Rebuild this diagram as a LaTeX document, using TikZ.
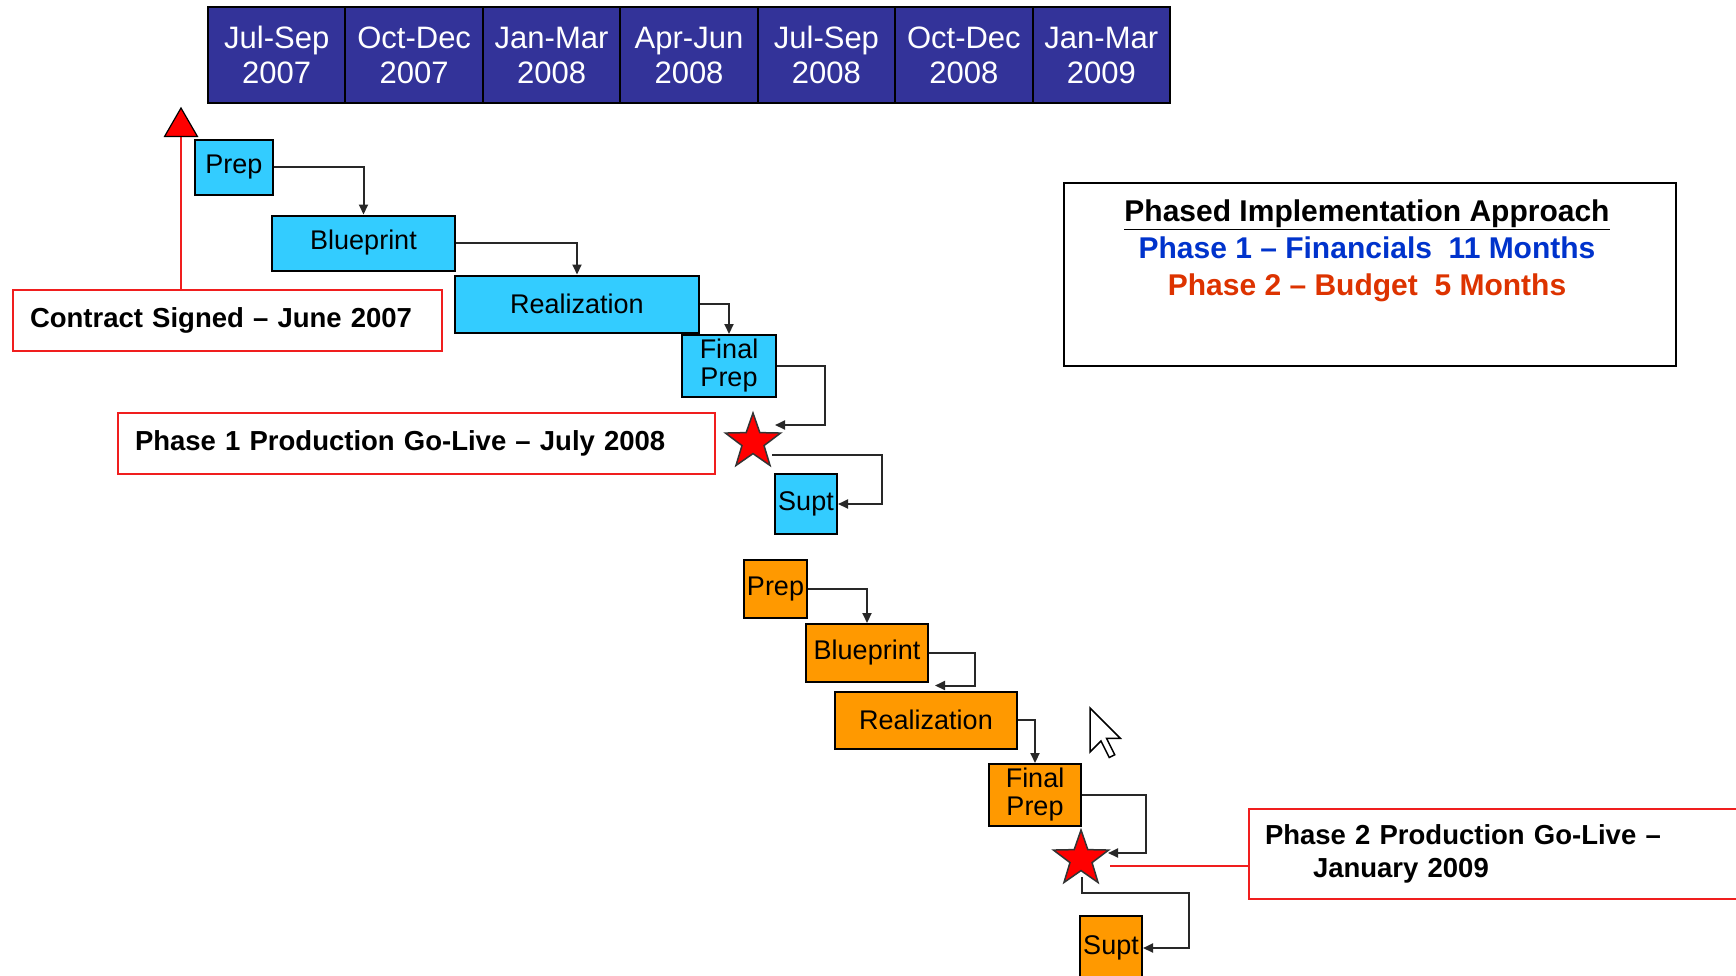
\documentclass[tikz,border=0pt]{standalone}
\usepackage{fontspec}
\setmainfont{Liberation Sans}
\usetikzlibrary{shapes.geometric,arrows.meta,calc}
\definecolor{hdrblue}{RGB}{51,51,153}
\definecolor{boxcyan}{RGB}{51,204,255}
\definecolor{boxorange}{RGB}{255,153,0}
\definecolor{legblue}{RGB}{0,51,204}
\definecolor{legred}{RGB}{221,51,0}
\definecolor{lblred}{RGB}{240,30,30}
\definecolor{connc}{RGB}{40,40,40}
\pgfdeclarelayer{bg}
\pgfsetlayers{bg,main}
\begin{document}
\begin{tikzpicture}[x=1pt,y=-1pt,
  hdr/.style={draw=black, line width=2, fill=hdrblue, text=white, align=center,
    minimum width=137.43, minimum height=96, inner sep=0,
    font=\fontsize{31}{35}\selectfont},
  cbox/.style={draw=black, line width=2, fill=boxcyan, align=center, inner sep=0,
    font=\fontsize{27}{28}\selectfont},
  obox/.style={cbox, fill=boxorange},
  lbl/.style={draw=lblred, line width=2, fill=white, align=left, inner ysep=0,
    font=\bfseries\fontsize{27.5}{33}\selectfont},
  conn/.style={draw=connc, line width=2, -{Triangle[length=10,width=9]}},
  redl/.style={draw=lblred, line width=2},
  starnode/.style={star, star points=5, star point ratio=2.5, fill=red,
    draw=black!80, line width=1.5, minimum size=58, inner sep=0}
]
\useasboundingbox (0,0) rectangle (1736,975);

% header
\foreach \i/\a/\b in {0/Jul-Sep/2007,1/Oct-Dec/2007,2/Jan-Mar/2008,3/Apr-Jun/2008,4/Jul-Sep/2008,5/Oct-Dec/2008,6/Jan-Mar/2009}
  \node[hdr] (h\i) at ({208+137.43*(\i+0.5)},55) {\a\\\b};

% contract signed marker
\node[regular polygon, regular polygon sides=3, fill=red, draw=black, line width=1.2,
  minimum size=38, inner sep=0] (tri) at (181,127) {};
\node[lbl, anchor=west, minimum height=61, inner xsep=17, text width=395] (contract) at (12,320.5) {Contract Signed – June 2007};

% phase 1 boxes
\node[cbox, minimum width=78, minimum height=55] (prep1) at (234,167) {Prep};
\node[cbox, minimum width=183, minimum height=55] (bp1) at (363.5,243) {Blueprint};
\node[cbox, minimum width=244, minimum height=57] (re1) at (577,304) {Realization};
\node[cbox, minimum width=94, minimum height=62] (fp1) at (729,366) {Final\\Prep};
\node[starnode] (star1) at (753,442) {};
\node[cbox, minimum width=62, minimum height=60] (supt1) at (806,504) {Supt};
\node[lbl, anchor=west, minimum height=61, inner xsep=17, text width=563] (go1) at (117,443.5) {Phase 1 Production Go-Live – July 2008};

% phase 2 boxes
\node[obox, minimum width=63, minimum height=58] (prep2) at (775.5,589) {Prep};
\node[obox, minimum width=122, minimum height=58] (bp2) at (867,653) {Blueprint};
\node[obox, minimum width=182, minimum height=57] (re2) at (926,720) {Realization};
\node[obox, minimum width=92, minimum height=62] (fp2) at (1035,795) {Final\\Prep};
\node[starnode] (star2) at (1081,859) {};
\node[obox, minimum width=62, minimum height=64] (supt2) at (1111,948) {Supt};
\node[lbl, anchor=west, minimum height=90, inner xsep=16, text width=480] (go2) at (1248,854) {Phase 2 Production Go-Live –\\\hspace*{48pt}January 2009};

% legend
\node[draw=black, line width=2, fill=white, minimum width=612, minimum height=183, inner sep=0] (legend) at (1370,274.5) {};
\node[align=center, font=\bfseries\fontsize{30}{37}\selectfont] (legtxt) at (1367,251)
  {\underline{Phased Implementation Approach}\\
   \textcolor{legblue}{Phase 1 – Financials\ \ 11 Months}\\
   \textcolor{legred}{Phase 2 – Budget\ \ 5 Months}};

% cursor
\draw[shift={(1090,708)}, fill=white, draw=black, line width=1.5, line join=miter]
  (0,0) -- (0,44) -- (11,33) -- (19.25,49.5) -- (24.75,46.75) -- (16.5,30.25) -- (30.25,30.25) -- cycle;

% connectors
\begin{pgfonlayer}{bg}
\draw[redl] (tri.south) -- (tri.south |- contract.north);
\draw[conn] (prep1.east) -| (bp1.north);
\draw[conn] (bp1.east) -| (re1.north);
\draw[conn] (re1.east) -| (fp1.north);
\draw[conn] (fp1.east) -- ++(48,0) |- ($(star1)+(22,-17)$);
\draw[conn] ($(star1)+(19,13)$) -- ++(110,0) |- (supt1.east);
\draw[conn] (prep2.east) -| (bp2.north);
\draw[conn] (bp2.east) -- ++(46,0) |- ($(re2.north)+(9,-5)$);
\draw[conn] (re2.east) -| (fp2.north);
\draw[conn] (fp2.east) -- ++(64,0) |- ($(star2)+(27,-6)$);
\draw[conn] ($(star2)+(1,18)$) |- ($(supt2.east)+(46,-55)$) |- (supt2.east);
\draw[redl] ($(star2)+(29,7)$) coordinate (s2r) -- (s2r -| go2.west);
\end{pgfonlayer}
\end{tikzpicture}
\end{document}
